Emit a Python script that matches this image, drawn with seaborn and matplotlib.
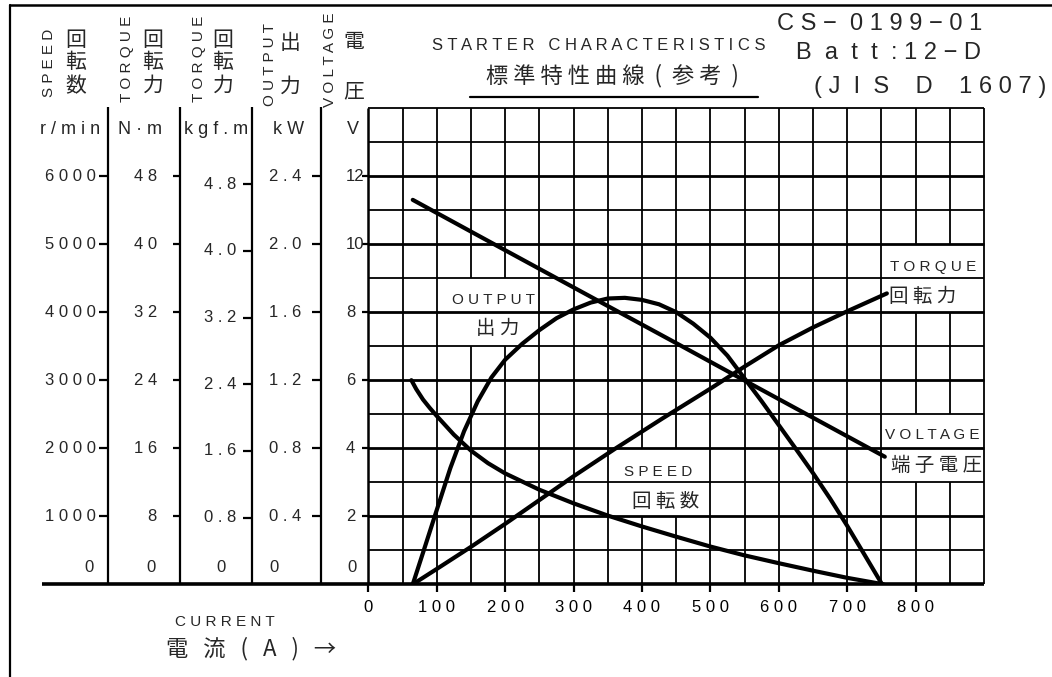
import matplotlib
matplotlib.use("Agg")

import matplotlib.pyplot as plt
import matplotlib.transforms as mtransforms
import numpy as np
import seaborn as sns

sns.set_theme(style="white")
plt.rcParams['font.family'] = ['Liberation Sans', 'DejaVu Sans']
JP = ['Noto Sans CJK JP', 'DejaVu Sans']

# --- data ----------------------------------------------------------------
current_voltage = [65, 200, 350, 450, 550, 755]
voltage_v = [11.3, 9.82, 8.18, 7.09, 5.99, 3.75]

current_torque = [65, 100, 150, 200, 300, 360, 430, 500, 550, 600, 650, 700, 758]
torque_nm = [0, 1.8, 4.4, 7.1, 12.7, 15.9, 19.5, 23.0, 25.6, 28.1, 30.2, 32.1, 34.2]

current_speed = [63, 70, 80, 90, 100, 125, 150, 175, 200, 250, 300, 350, 400,
                 450, 500, 550, 600, 650, 700, 753]
speed_rpm = [3000, 2870, 2715, 2590, 2475, 2200, 1965, 1780, 1630, 1390, 1190,
             1010, 850, 700, 555, 425, 310, 200, 95, 0]

current_output = [65, 80, 100, 120, 140, 160, 180, 200, 225, 250, 275, 300, 325,
                  350, 375, 400, 425, 450, 475, 500, 525, 550, 575, 600, 625,
                  650, 675, 700, 725, 751]
output_kw = [0, 0.186, 0.436, 0.684, 0.90, 1.076, 1.216, 1.32, 1.414, 1.494,
             1.564, 1.616, 1.656, 1.68, 1.684, 1.672, 1.646, 1.60, 1.532, 1.45,
             1.344, 1.21, 1.076, 0.936, 0.796, 0.654, 0.504, 0.344, 0.176, 0]

current_ticks = [0, 100, 200, 300, 400, 500, 600, 700, 800]
speed_ticks = [1000, 2000, 3000, 4000, 5000, 6000]
torque_nm_ticks = [8, 16, 24, 32, 40, 48]
torque_kgf_ticks = [0.8, 1.6, 2.4, 3.2, 4.0, 4.8]
output_ticks = [0.4, 0.8, 1.2, 1.6, 2.0, 2.4]
voltage_ticks = [2, 4, 6, 8, 10, 12]

# every scale is drawn against the voltage grid
RPM_PER_V = 500
NM_PER_V = 4
KGF_TO_NM = 9.8
KW_PER_V = 0.2


def spaced(s):
    return ' '.join(s)


fig = plt.figure(figsize=(10.52, 6.77), dpi=100)
fig.patch.set_facecolor('white')

# full-figure helper axes in pixel units for the sheet layout
frame = fig.add_axes([0, 0, 1, 1])
frame.set_xlim(0, 1052)
frame.set_ylim(677, 0)
frame.axis('off')

ax = fig.add_axes([368.3 / 1052, 1 - 584.3 / 677, (984 - 368.3) / 1052, (584.3 - 108) / 677])
ax.set_facecolor('none')

# grid, with gaps where the curve labels sit
gaps = {150: [(7, 9)], 200: [(7, 9)], 400: [(2, 4)], 450: [(2, 4)],
        800: [(3, 5), (8, 10)], 850: [(3, 5), (8, 10)]}
for a in range(0, 901, 50):
    start = 0
    for lo, hi in gaps.get(a, []):
        ax.vlines(a, start, lo, color='black', lw=1.3, clip_on=False)
        start = hi
    ax.vlines(a, start, 14, color='black', lw=1.8 if a == 0 else 1.3, clip_on=False)
for v in range(1, 15):
    ax.hlines(v, 0, 900, color='black', lw=2.0 if v % 2 == 0 and v < 14 else 1.3, clip_on=False)

# curves
sns.lineplot(x=current_voltage, y=voltage_v, ax=ax, color='black', lw=3, sort=False, estimator=None)
sns.lineplot(x=current_torque, y=np.array(torque_nm) / NM_PER_V, ax=ax, color='black',
             lw=3, sort=False, estimator=None)
sns.lineplot(x=current_speed, y=np.array(speed_rpm) / RPM_PER_V, ax=ax, color='black',
             lw=3, sort=False, estimator=None)
sns.lineplot(x=current_output, y=np.array(output_kw) / KW_PER_V, ax=ax, color='black',
             lw=3, sort=False, estimator=None)

ax.set_xlim(0, 900)
ax.set_ylim(0, 14)
for sp in ax.spines.values():
    sp.set_visible(False)
ax.set_yticks([])
ax.set_xticks(current_ticks, labels=[spaced(str(t)) for t in current_ticks], fontsize=12)
ax.tick_params(axis='x', length=6, width=1.6, direction='out', pad=5, colors='black', bottom=True)
ax.set_xlabel('')
ax.set_ylabel('')

# curve labels
ax.text(183, 8.35, spaced('OUTPUT'), fontsize=11, ha='center', va='center')
ax.text(189, 7.52, '出 力', family=JP, fontsize=14, ha='center', va='center')
ax.text(825, 9.33, spaced('TORQUE'), fontsize=11, ha='center', va='center')
ax.text(811, 8.47, '回 転 力', family=JP, fontsize=14, ha='center', va='center')
ax.text(825, 4.385, spaced('VOLTAGE'), fontsize=11, ha='center', va='center')
ax.text(831, 3.50, '端 子 電 圧', family=JP, fontsize=14, ha='center', va='center')
ax.text(423, 3.31, spaced('SPEED'), fontsize=11, ha='center', va='center')
ax.text(434, 2.43, '回 転 数', family=JP, fontsize=14, ha='center', va='center')

# left scales: x in sheet pixels, y on the voltage grid
mix = mtransforms.blended_transform_factory(frame.transData, ax.transData)
zero_tr = mtransforms.offset_copy(mix, fig=fig, y=16.8, units='dots')

frame.plot([41.7, 984], [0, 0], color='black', lw=2.6, transform=mix,
           solid_capstyle='butt', clip_on=False)
frame.vlines([107.7, 180, 252.3, 321], 107, 584.3, color='black', lw=1.6)
frame.plot([10, 10], [5, 677], color='black', lw=1.6)
frame.plot([10, 1052], [5, 5], color='black', lw=1.8)

columns = [
    (speed_ticks, lambda t: t / RPM_PER_V, 96, 'right', (99, 107.7), 89, True),
    (torque_nm_ticks, lambda t: t / NM_PER_V, 157, 'right', (172.7, 180), 151, True),
    (torque_kgf_ticks, lambda t: t * KGF_TO_NM / NM_PER_V, 220, 'center', (243, 252.3), 221, True),
    (output_ticks, lambda t: t / KW_PER_V, 269, 'left', (312, 321), 274, True),
    (voltage_ticks, lambda t: t, 346, 'left', (362, 368.3), 352, False),
]
for ticks, to_v, lx, ha, (t0, t1), zx, space in columns:
    for t in ticks:
        y = to_v(t)
        label = f"{t:g}" if not isinstance(t, float) else f"{t:.1f}"
        if space:
            label = spaced(label)
        frame.text(lx, y, label, transform=mix, fontsize=12, ha=ha, va='center')
        frame.plot([t0, t1], [y, y], color='black', lw=1.6, transform=mix, solid_capstyle='butt')
    frame.text(zx, 0, '0', transform=zero_tr, fontsize=12, ha='center', va='center')

# column headers
headers = [
    (49, 'SPEED', 76, '回転数', [40, 62.5, 86]),
    (127.5, 'TORQUE', 153, '回転力', [40, 62.5, 86]),
    (199, 'TORQUE', 223, '回転力', [40, 62.5, 86]),
    (270, 'OUTPUT', 290, '出力', [43, 87]),
    (330, 'VOLTAGE', 354, '電圧', [42, 91]),
]
header_mid = [63, 58.5, 59, 64.5, 60]
for (ex, word, jx, kanji, ky), my in zip(headers, header_mid):
    frame.text(ex, my, spaced(word), rotation=90, fontsize=11, ha='center', va='center')
    for ch, yy in zip(kanji, ky):
        frame.text(jx, yy, ch, family=JP, fontsize=15, ha='center', va='center')

units = [(70, 'r / m i n'), (140.5, 'N · m'), (216, 'k g f . m'), (288.5, 'k W'), (352.5, 'V')]
for ux, u in units:
    frame.text(ux, 130, u, fontsize=13, ha='center', va='center')

# title block
frame.text(598.5, 45, 'S T A R T E R   C H A R A C T E R I S T I C S', fontsize=12,
           ha='center', va='center')
frame.text(612.5, 76, '標 準 特 性 曲 線  (  参 考  )', family=JP, fontsize=16,
           ha='center', va='center')
frame.plot([470, 758], [97, 97], color='black', lw=1.6)
frame.text(880, 23.5, 'C S −  0 1 9 9 − 0 1', fontsize=17, ha='center', va='center')
frame.text(888, 53, 'B  a  t  t  : 1 2 − D', fontsize=17, ha='center', va='center')
frame.text(930, 87, '( J  I  S    D    1 6 0 7 )', fontsize=17, ha='center', va='center')

# axis caption
frame.text(225, 621.5, spaced('CURRENT'), fontsize=11, ha='center', va='center')
frame.text(251.5, 649, '電   流   (   A   )   →', family=JP, fontsize=16,
           ha='center', va='center')

fig.savefig('out.png', dpi=100, facecolor='white')
plt.close(fig)
